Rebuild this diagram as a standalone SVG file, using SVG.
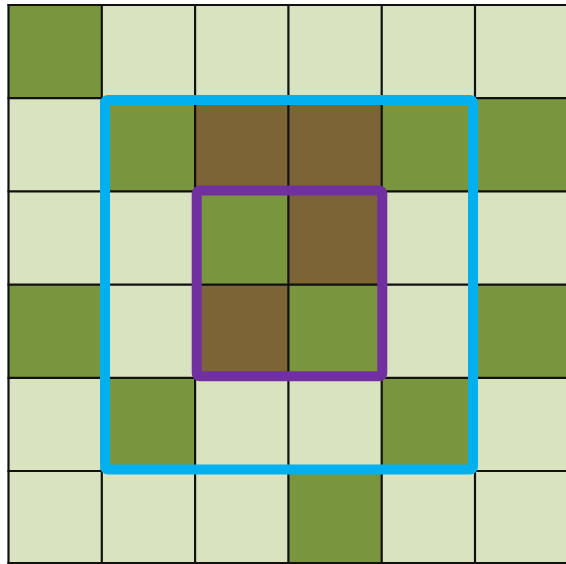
<svg xmlns="http://www.w3.org/2000/svg" width="566" height="564" viewBox="0 0 566 564">
<style>
.l{fill:#dae3c0}.g{fill:#79953d}.b{fill:#7c6436}
.grid line{stroke:#111;stroke-width:2.2}
</style>
<rect width="566" height="564" fill="#fff"/>
<g id="cells">
<rect class="g" x="8.5" y="5" width="93.3" height="93.2"/>
<rect class="l" x="101.8" y="5" width="93.3" height="93.2"/>
<rect class="l" x="195.1" y="5" width="93.3" height="93.2"/>
<rect class="l" x="288.4" y="5" width="93.3" height="93.2"/>
<rect class="l" x="381.7" y="5" width="93.3" height="93.2"/>
<rect class="l" x="475" y="5" width="93.3" height="93.2"/>
<rect class="l" x="8.5" y="98.2" width="93.3" height="93.2"/>
<rect class="g" x="101.8" y="98.2" width="93.3" height="93.2"/>
<rect class="b" x="195.1" y="98.2" width="93.3" height="93.2"/>
<rect class="b" x="288.4" y="98.2" width="93.3" height="93.2"/>
<rect class="g" x="381.7" y="98.2" width="93.3" height="93.2"/>
<rect class="g" x="475" y="98.2" width="93.3" height="93.2"/>
<rect class="l" x="8.5" y="191.4" width="93.3" height="93.2"/>
<rect class="l" x="101.8" y="191.4" width="93.3" height="93.2"/>
<rect class="g" x="195.1" y="191.4" width="93.3" height="93.2"/>
<rect class="b" x="288.4" y="191.4" width="93.3" height="93.2"/>
<rect class="l" x="381.7" y="191.4" width="93.3" height="93.2"/>
<rect class="l" x="475" y="191.4" width="93.3" height="93.2"/>
<rect class="g" x="8.5" y="284.6" width="93.3" height="93.2"/>
<rect class="l" x="101.8" y="284.6" width="93.3" height="93.2"/>
<rect class="b" x="195.1" y="284.6" width="93.3" height="93.2"/>
<rect class="g" x="288.4" y="284.6" width="93.3" height="93.2"/>
<rect class="l" x="381.7" y="284.6" width="93.3" height="93.2"/>
<rect class="g" x="475" y="284.6" width="93.3" height="93.2"/>
<rect class="l" x="8.5" y="377.8" width="93.3" height="93.2"/>
<rect class="g" x="101.8" y="377.8" width="93.3" height="93.2"/>
<rect class="l" x="195.1" y="377.8" width="93.3" height="93.2"/>
<rect class="l" x="288.4" y="377.8" width="93.3" height="93.2"/>
<rect class="g" x="381.7" y="377.8" width="93.3" height="93.2"/>
<rect class="l" x="475" y="377.8" width="93.3" height="93.2"/>
<rect class="l" x="8.5" y="471" width="93.3" height="93.2"/>
<rect class="l" x="101.8" y="471" width="93.3" height="93.2"/>
<rect class="l" x="195.1" y="471" width="93.3" height="93.2"/>
<rect class="g" x="288.4" y="471" width="93.3" height="93.2"/>
<rect class="l" x="381.7" y="471" width="93.3" height="93.2"/>
<rect class="l" x="475" y="471" width="93.3" height="93.2"/>
</g>
<g id="grid" class="grid">
<line x1="8.5" y1="4" x2="8.5" y2="564"/>
<line x1="101.8" y1="4" x2="101.8" y2="564"/>
<line x1="195.1" y1="4" x2="195.1" y2="564"/>
<line x1="288.4" y1="4" x2="288.4" y2="564"/>
<line x1="381.7" y1="4" x2="381.7" y2="564"/>
<line x1="475" y1="4" x2="475" y2="564"/>
<line x1="7.5" y1="5" x2="566" y2="5"/>
<line x1="7.5" y1="98.2" x2="566" y2="98.2"/>
<line x1="7.5" y1="191.4" x2="566" y2="191.4"/>
<line x1="7.5" y1="284.6" x2="566" y2="284.6"/>
<line x1="7.5" y1="377.8" x2="566" y2="377.8"/>
<line x1="7.5" y1="471" x2="566" y2="471"/>
<line x1="7.5" y1="563" x2="566" y2="563"/>
</g>
<g id="blue-frame">
<rect x="105" y="100" width="368" height="369.5" rx="3" fill="none" stroke="#00b0ef" stroke-width="10" stroke-linejoin="round"/>
</g>
<g id="purple-frame">
<rect x="196.7" y="190.5" width="185.6" height="185.8" rx="3" fill="none" stroke="#7030a0" stroke-width="10" stroke-linejoin="round"/>
</g>
</svg>
